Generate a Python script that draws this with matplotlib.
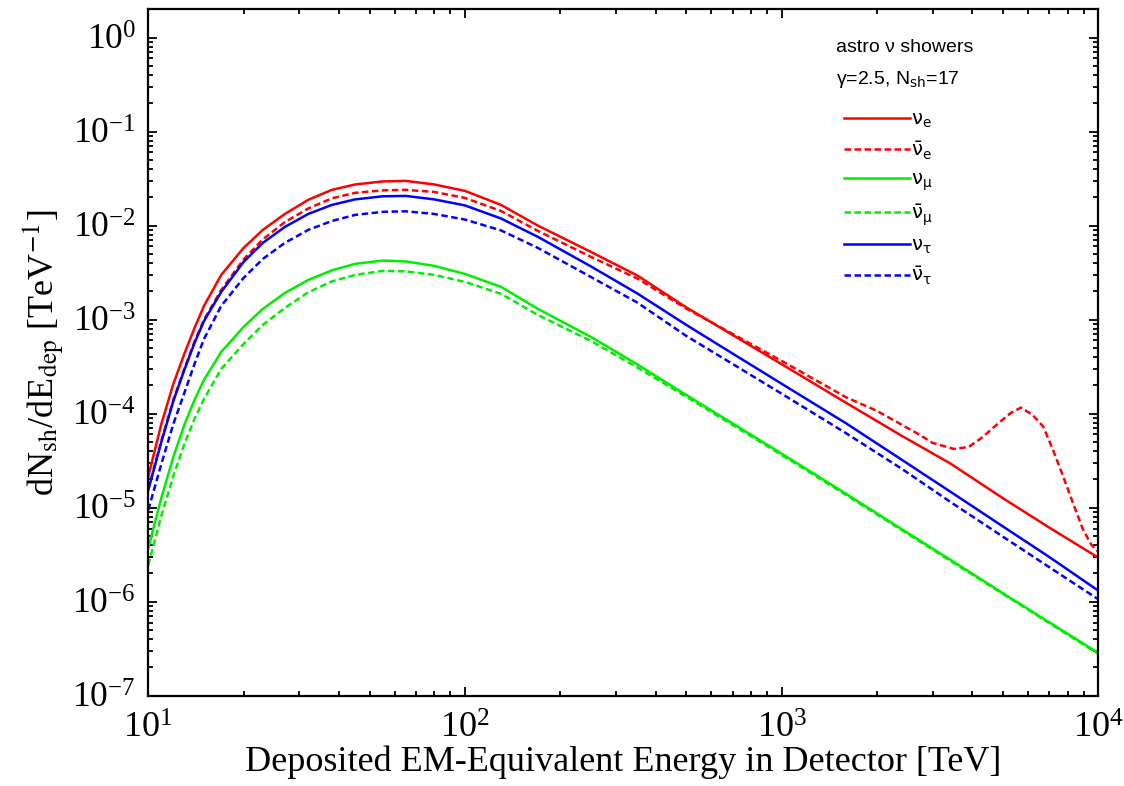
#!/usr/bin/env python
"""Astrophysical neutrino shower spectra per flavour."""

import matplotlib
matplotlib.use('Agg')
import matplotlib.pyplot as plt
from matplotlib.font_manager import FontProperties
from matplotlib.ticker import LogLocator, LogFormatterMathtext, NullFormatter


# deposited energy grid [TeV]
energy = [10, 11, 12, 13, 14, 15, 17, 20, 23, 27, 32, 38, 45, 55, 65, 80,
          100, 130, 170, 250, 350, 500, 700, 1000, 1600, 2400, 3400, 5000,
          7000, 10000]

# dN/dE [1/TeV] per flavour
nu_e = [2.14e-5, 7.77e-5, 2.07e-4, 4.32e-4, 8.16e-4, 1.40e-3, 2.99e-3,
        5.79e-3, 9.0e-3, 1.33e-2, 1.88e-2, 2.40e-2, 2.74e-2, 2.95e-2,
        2.99e-2, 2.74e-2, 2.34e-2, 1.66e-2, 1.00e-2, 5.25e-3, 2.95e-3,
        1.35e-3, 6.87e-4, 3.36e-4, 1.30e-4, 5.79e-5, 2.97e-5, 1.26e-5,
        6.14e-6, 2.94e-6]
nu_mu = [3.72e-6, 1.27e-5, 3.46e-5, 7.59e-5, 1.40e-4, 2.29e-4, 4.53e-4,
         8.36e-4, 1.30e-3, 1.92e-3, 2.64e-3, 3.34e-3, 3.92e-3, 4.25e-3,
         4.16e-3, 3.73e-3, 3.06e-3, 2.23e-3, 1.30e-3, 6.55e-4, 3.34e-4,
         1.58e-4, 7.87e-5, 3.76e-5, 1.40e-5, 5.88e-6, 2.81e-6, 1.23e-6,
         6.04e-7, 2.85e-7]
nubar_mu = [2.45e-6, 8.16e-6, 2.17e-5, 4.76e-5, 8.79e-5, 1.43e-4, 2.99e-4,
            5.51e-4, 8.79e-4, 1.33e-3, 1.95e-3, 2.55e-3, 2.99e-3, 3.30e-3,
            3.26e-3, 2.99e-3, 2.52e-3, 1.88e-3, 1.12e-3, 5.93e-4, 3.10e-4,
            1.51e-4, 7.59e-5, 3.64e-5, 1.36e-5, 5.75e-6, 2.74e-6, 1.21e-6,
            5.93e-7, 2.78e-7]
nu_tau = [1.54e-5, 5.0e-5, 1.36e-4, 2.92e-4, 5.65e-4, 9.68e-4, 1.97e-3,
          4.11e-3, 6.55e-3, 9.68e-3, 1.33e-2, 1.66e-2, 1.90e-2, 2.05e-2,
          2.07e-2, 1.90e-2, 1.64e-2, 1.19e-2, 7.59e-3, 3.68e-3, 1.90e-3,
          8.79e-4, 4.36e-4, 2.08e-4, 7.87e-5, 3.22e-5, 1.49e-5, 6.31e-6,
          2.99e-6, 1.31e-6]
nubar_tau = [9.45e-6, 2.92e-5, 7.77e-5, 1.66e-4, 3.38e-4, 6.23e-4, 1.40e-3,
             2.78e-3, 4.42e-3, 6.55e-3, 9.0e-3, 1.12e-2, 1.30e-2, 1.40e-2,
             1.42e-2, 1.33e-2, 1.16e-2, 8.89e-3, 5.79e-3, 2.84e-3, 1.52e-3,
             6.71e-4, 3.38e-4, 1.63e-4, 6.18e-5, 2.58e-5, 1.16e-5, 4.91e-6,
             2.33e-6, 1.06e-6]

# anti nu_e has its own grid for the Glashow resonance bump
energy_bar_e = [10, 11, 12, 13, 14, 15, 17, 20, 23, 27, 32, 38, 45, 55, 65,
                80, 100, 130, 170, 250, 350, 500, 700, 1000, 1600, 2000,
                2400, 2700, 3000, 3500, 3900, 4300, 4900, 5300, 5700, 6200,
                6700, 7200, 7750, 8330, 8960, 9520, 10000]
nubar_e = [1.58e-5, 5.13e-5, 1.40e-4, 2.99e-4, 5.86e-4, 1.00e-3, 2.07e-3,
           4.37e-3, 7.13e-3, 1.09e-2, 1.52e-2, 1.95e-2, 2.23e-2, 2.37e-2,
           2.40e-2, 2.28e-2, 1.97e-2, 1.43e-2, 8.78e-3, 4.65e-3, 2.74e-3,
           1.31e-3, 7.05e-4, 3.64e-4, 1.49e-4, 1.07e-4, 7.59e-5, 6.08e-5,
           4.88e-5, 4.21e-5, 4.42e-5, 5.58e-5, 8.2e-5, 1.02e-4, 1.16e-4,
           9.7e-5, 7.3e-5, 4.1e-5, 2.14e-5, 1.11e-5, 5.8e-6, 4.0e-6, 3.4e-6]

labels = [r'$\mathrm{\nu}_{\rm e}$', r'$\bar{\mathrm{\nu}}_{\rm e}$',
          r'$\mathrm{\nu}_{\mathrm{\mu}}$', r'$\bar{\mathrm{\nu}}_{\mathrm{\mu}}$',
          r'$\mathrm{\nu}_{\mathrm{\tau}}$', r'$\bar{\mathrm{\nu}}_{\mathrm{\tau}}$']


def main():
    """Draw the figure."""

    # set default font properties
    plt.rc('font', family=['Liberation Serif', 'DejaVu Serif'], size=24)
    plt.rc('mathtext', fontset='stix')
    plt.rc('axes', linewidth=1.6, unicode_minus=False)

    # initialize figure
    fig = plt.figure(figsize=(11.24, 7.86), dpi=100)
    ax = fig.add_axes([0.1319, 0.1149, 0.8452, 0.8733])

    # draw curves
    dash = (0, (2.6, 1.4))
    series = [(energy, nu_e, '#ff0000', '-'),
              (energy_bar_e, nubar_e, '#ff0000', dash),
              (energy, nu_mu, '#00ee00', '-'),
              (energy, nubar_mu, '#00ee00', dash),
              (energy, nu_tau, '#0000ff', '-'),
              (energy, nubar_tau, '#0000ff', dash)]
    for (x, y, color, ls), label in zip(series, labels):
        ax.plot(x, y, color=color, ls=ls, lw=1.8, label=label,
                solid_joinstyle='round', dash_joinstyle='round')

    # axes scales and limits
    ax.set_xscale('log')
    ax.set_yscale('log')
    ax.set_xlim(10, 1e4)
    ax.set_ylim(1e-7, 2.0)

    # ticks
    for axis in (ax.xaxis, ax.yaxis):
        axis.set_major_locator(LogLocator(base=10, numticks=20))
        axis.set_minor_locator(LogLocator(base=10, subs=range(2, 10),
                                          numticks=20))
        axis.set_major_formatter(LogFormatterMathtext())
        axis.set_minor_formatter(NullFormatter())
    ax.tick_params(which='both', direction='in', top=True, right=True,
                   width=1.3)
    ax.tick_params(which='major', length=6.5)
    ax.tick_params(which='minor', length=3.8)
    ax.tick_params(axis='x', pad=12, labelsize=26)
    ax.tick_params(axis='y', pad=9, labelsize=25.5)

    # axis labels
    ax.set_xlabel('Deposited EM-Equivalent Energy in Detector [TeV]',
                  fontsize=26, labelpad=0)
    ax.set_ylabel(r'dN$_{\rm sh}$/dE$_{\rm dep}$ [TeV$^{-1}$]', fontsize=26)
    ax.yaxis.set_label_coords(-0.086, 0.5)

    # legend title lines
    prop = FontProperties(family=['Liberation Sans', 'DejaVu Sans'],
                          size=14, math_fontfamily='dejavusans')
    ax.text(0.724, 0.9436, 'astro \u03bd showers', transform=ax.transAxes,
            fontproperties=prop, ha='left', va='center')
    ax.text(0.724, 0.897, '\u03b3=2.5, N$_{\\rm sh}$=17',
            transform=ax.transAxes, fontproperties=prop, ha='left',
            va='center')

    # legend entries
    ax.legend(loc='upper left', bbox_to_anchor=(0.7243, 0.863),
              frameon=False, prop=prop, handlelength=3.4,
              handletextpad=0.05, labelspacing=0.48, borderaxespad=0)

    # save
    fig.savefig('out.png', dpi=100)
    plt.close(fig)


if __name__ == '__main__':
    main()
